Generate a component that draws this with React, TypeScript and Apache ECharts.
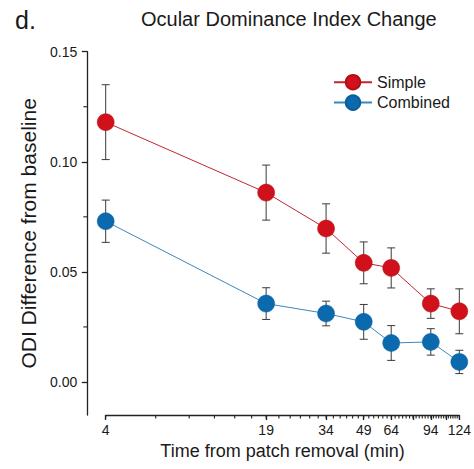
import React, { useEffect, useRef } from "react";
import * as echarts from "echarts";

const times = [4, 19, 34, 49, 64, 94, 124];
const simpleMean = [0.118, 0.086, 0.0697, 0.0541, 0.0518, 0.0356, 0.0321];
const simpleErr = [0.017, 0.0125, 0.0112, 0.0095, 0.0091, 0.0067, 0.0102];
const combinedMean = [0.073, 0.0356, 0.0311, 0.0273, 0.0177, 0.0182, 0.0091];
const combinedErr = [0.0096, 0.0072, 0.0056, 0.0079, 0.0079, 0.006, 0.0053];

const xTickLabels = [4, 19, 34, 49, 64, 94, 124];
const xMajorTicks = [4, 19, 34, 49, 64, 79, 94, 109, 124];
const xMinorStep = 2.5;
const yTickLabels = [0, 0.05, 0.1, 0.15];
const yMinorTicks = [0.025, 0.075, 0.125];
const yMin = -0.015;
const yMax = 0.15;

const FONT = "'Liberation Sans', Arial, sans-serif";
const TXT = "#1a1a1a";
const AX = "#222";
const RED = "#d0111b";
const BLUE = "#0b69ad";
const Y_OFFSET = 18.4;

const lg = (v: number) => Math.log10(v);

function errData(mean: number[], err: number[]) {
  return times.map((t, i) => [lg(t), mean[i] - err[i], mean[i] + err[i]]);
}

function errRender(params: any, api: any) {
  const x = api.value(0);
  const lo = api.value(1);
  const hi = api.value(2);
  const a = api.coord([x, hi]);
  const b = api.coord([x, lo]);
  const w = 4;
  const st = { stroke: "#3a3a3a", lineWidth: 1 };
  return {
    type: "group",
    children: [
      { type: "line", shape: { x1: a[0], y1: a[1], x2: b[0], y2: b[1] }, style: st },
      { type: "line", shape: { x1: a[0] - w, y1: a[1], x2: a[0] + w, y2: a[1] }, style: st },
      { type: "line", shape: { x1: b[0] - w, y1: b[1], x2: b[0] + w, y2: b[1] }, style: st },
    ],
  };
}

export default function App() {
  const ref = useRef<HTMLDivElement>(null);
  useEffect(() => {
    if (!ref.current) return;
    const chart = echarts.init(ref.current, null, { renderer: "svg" });
    const xMin = lg(times[0]);
    const xMax = lg(times[times.length - 1]);
    const xMinor: number[] = [];
    for (let v = times[0]; v <= times[times.length - 1] + 1e-9; v += xMinorStep) xMinor.push(v);

    chart.setOption({
      animation: false,
      backgroundColor: "#ffffff",
      title: [
        {
          text: "d.",
          left: 10,
          top: 2,
          textStyle: { fontFamily: FONT, fontSize: 25, fontWeight: "normal", color: TXT },
        },
        {
          text: "Ocular Dominance Index Change",
          left: 136,
          top: 4,
          textStyle: { fontFamily: FONT, fontSize: 20, fontWeight: "normal", color: TXT },
        },
      ],
      legend: {
        data: ["Simple", "Combined"],
        orient: "vertical",
        left: 328,
        top: 69,
        itemWidth: 38,
        itemHeight: 18,
        itemGap: 4,
        textStyle: { fontFamily: FONT, fontSize: 16, color: TXT },
      },
      grid: { left: 105.7, right: 14, top: 51.7, bottom: 54, containLabel: false },
      xAxis: {
        type: "value",
        min: xMin,
        max: xMax,
        position: "bottom",
        name: "Time from patch removal (min)",
        nameLocation: "middle",
        nameGap: 27,
        nameTextStyle: { fontFamily: FONT, fontSize: 18, color: TXT },
        axisLine: { show: true, onZero: false, lineStyle: { color: AX, width: 1.3 } },
        axisTick: {
          show: true,
          length: 5,
          customValues: xMajorTicks.map(lg),
          lineStyle: { color: AX, width: 1.3 },
        },
        axisLabel: {
          show: true,
          customValues: xTickLabels.map(lg),
          formatter: (v: number) => String(Math.round(Math.pow(10, v))),
          fontFamily: FONT,
          fontSize: 14,
          color: TXT,
          margin: 8,
        },
        splitLine: { show: false },
      },
      yAxis: {
        type: "value",
        min: yMin,
        max: yMax,
        position: "left",
        offset: Y_OFFSET,
        name: "ODI Difference from baseline",
        nameLocation: "middle",
        nameRotate: 90,
        nameGap: 40,
        nameTextStyle: { fontFamily: FONT, fontSize: 21, color: TXT },
        axisLine: { show: true, onZero: false, lineStyle: { color: AX, width: 1.3 } },
        axisTick: {
          show: true,
          length: 5.5,
          customValues: yTickLabels,
          lineStyle: { color: AX, width: 1.3 },
        },
        axisLabel: {
          show: true,
          customValues: yTickLabels,
          formatter: (v: number) => v.toFixed(2),
          fontFamily: FONT,
          fontSize: 14,
          color: TXT,
          margin: 10,
        },
        splitLine: { show: false },
      },
      series: [
        {
          type: "custom",
          name: "x minor ticks",
          silent: true,
          clip: false,
          data: xMinor.map((v) => [lg(v), yMin]),
          encode: { x: 0, y: 1 },
          renderItem: (p: any, api: any) => {
            const pt = api.coord([api.value(0), api.value(1)]);
            return {
              type: "line",
              shape: { x1: pt[0], y1: pt[1], x2: pt[0], y2: pt[1] + 3.5 },
              style: { stroke: AX, lineWidth: 1.1 },
            };
          },
          z: 1,
        },
        {
          type: "custom",
          name: "y minor ticks",
          silent: true,
          clip: false,
          data: yMinorTicks.map((v) => [xMin, v]),
          encode: { x: 0, y: 1 },
          renderItem: (p: any, api: any) => {
            const pt = api.coord([api.value(0), api.value(1)]);
            const ax = pt[0] - Y_OFFSET;
            return {
              type: "line",
              shape: { x1: ax - 4, y1: pt[1], x2: ax, y2: pt[1] },
              style: { stroke: AX, lineWidth: 1.1 },
            };
          },
          z: 1,
        },
        {
          type: "custom",
          name: "Simple error",
          silent: true,
          renderItem: errRender,
          data: errData(simpleMean, simpleErr),
          encode: { x: 0, y: [1, 2] },
          z: 1,
        },
        {
          type: "custom",
          name: "Combined error",
          silent: true,
          renderItem: errRender,
          data: errData(combinedMean, combinedErr),
          encode: { x: 0, y: [1, 2] },
          z: 1,
        },
        {
          type: "line",
          name: "Simple",
          data: times.map((t, i) => [lg(t), simpleMean[i]]),
          symbol: "circle",
          symbolSize: 17,
          lineStyle: { color: "#c0262d", width: 1 },
          itemStyle: { color: RED, borderColor: "#b30d16", borderWidth: 0.5 },
          z: 3,
        },
        {
          type: "line",
          name: "Combined",
          data: times.map((t, i) => [lg(t), combinedMean[i]]),
          symbol: "circle",
          symbolSize: 17,
          lineStyle: { color: "#3a88bb", width: 1 },
          itemStyle: { color: BLUE, borderColor: "#0a5e9c", borderWidth: 0.5 },
          z: 3,
        },
      ],
    });
    return () => chart.dispose();
  }, []);
  return <div ref={ref} style={{ width: 474, height: 469, position: "absolute", left: 0, top: 0 }} />;
}
